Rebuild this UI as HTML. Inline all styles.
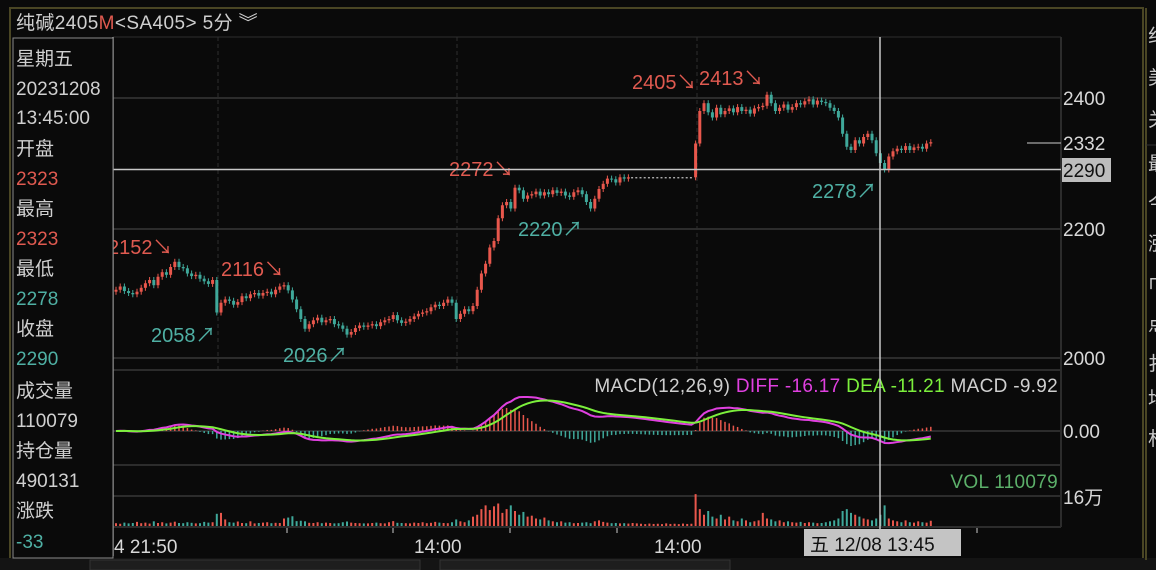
<!DOCTYPE html>
<html><head><meta charset="utf-8">
<style>
body{margin:0;background:#0a0a0a;width:1156px;height:570px;overflow:hidden;font-family:"Liberation Sans","Noto Sans CJK SC",sans-serif;}
svg{position:absolute;left:0;top:0}
text{font-family:"Liberation Sans","Noto Sans CJK SC",sans-serif}
</style></head><body>
<svg id="chart" width="1156" height="570">
<rect x="0" y="0" width="1156" height="570" fill="#0a0a0a"/>
<rect x="10" y="8" width="1133" height="551" fill="none" stroke="#4a4624" stroke-width="2"/>
<rect x="0" y="558" width="1156" height="12" fill="#141414"/>
<rect x="90" y="560" width="330" height="10" fill="#1e1e1e" stroke="#333"/>
<rect x="440" y="560" width="290" height="10" fill="#1e1e1e" stroke="#333"/>
<line x1="1146" y1="8" x2="1146" y2="560" stroke="#4a4624" stroke-width="2"/>
<g>
<text x="16" y="29" font-size="19" fill="#cfcfcf" letter-spacing="0.4">纯碱2405<tspan fill="#e05a50">M</tspan><tspan font-size="19">&lt;SA405&gt; 5分 ︾</tspan></text>
</g>
<line x1="113" y1="37" x2="1061" y2="37" stroke="#2e2e2e"/>
<g id="grid" stroke="#2c2c2c" stroke-width="2">
<line x1="113" y1="98" x2="1061" y2="98"/><line x1="113" y1="229" x2="1061" y2="229"/><line x1="113" y1="358" x2="1061" y2="358"/>
<line x1="113" y1="370" x2="1061" y2="370"/><line x1="113" y1="431" x2="1061" y2="431"/><line x1="113" y1="465" x2="1061" y2="465"/>
<line x1="113" y1="496" x2="1061" y2="496"/><line x1="113" y1="527" x2="1061" y2="527"/>
<line x1="1061" y1="37" x2="1061" y2="527"/>
</g>
<g stroke="#2e2e2e" stroke-dasharray="4,3">
<line x1="218" y1="37" x2="218" y2="370"/><line x1="457" y1="37" x2="457" y2="370"/><line x1="697" y1="37" x2="697" y2="370"/>
</g>
<g id="candles"></g>
<g id="macd"></g>
<g id="vol"></g>
<g font-size="20">
<text x="108" y="254" fill="#e05a50">2152↘</text>
<text x="221" y="276" fill="#e05a50">2116↘</text>
<text x="151" y="342" fill="#4fb0a4">2058↗</text>
<text x="283" y="362" fill="#4fb0a4">2026↗</text>
<text x="449" y="176" fill="#e05a50">2272↘</text>
<text x="518" y="236" fill="#4fb0a4">2220↗</text>
<text x="632" y="89" fill="#e05a50">2405↘</text>
<text x="699" y="85" fill="#e05a50">2413↘</text>
<text x="812" y="198" fill="#4fb0a4">2278↗</text>
</g>
<g font-size="19" fill="#d8d8d8">
<text x="1063" y="105">2400</text>
<line x1="1027" y1="143" x2="1061" y2="143" stroke="#ccc"/>
<text x="1063" y="150">2332</text>
<rect x="1062" y="158" width="49" height="24" fill="#bdbdbd"/>
<text x="1063" y="177" fill="#111">2290</text>
<text x="1063" y="236">2200</text>
<text x="1063" y="365">2000</text>
<text x="1063" y="438">0.00</text>
<text x="1063" y="504">16万</text>
</g>
<g font-size="19">
<text x="1058" y="392" text-anchor="end" letter-spacing="0.3"><tspan fill="#cfcfcf">MACD(12,26,9) </tspan><tspan fill="#e040e0">DIFF -16.17 </tspan><tspan fill="#7cf03c">DEA -11.21 </tspan><tspan fill="#cfcfcf">MACD -9.92</tspan></text>
<text x="1058" y="488" text-anchor="end" fill="#5cb06a" letter-spacing="0.3">VOL 110079</text>
</g>
<g stroke="#c8c8c8" stroke-width="1.5">
<line x1="880" y1="37" x2="880" y2="530"/>
<line x1="113" y1="169.5" x2="1061" y2="169.5"/>
</g>
<g font-size="19" fill="#d8d8d8">
<g stroke="#ccc"><line x1="287" y1="528" x2="287" y2="533"/><line x1="393" y1="528" x2="393" y2="533"/><line x1="510" y1="528" x2="510" y2="533"/><line x1="617" y1="528" x2="617" y2="533"/><line x1="977" y1="528" x2="977" y2="533"/></g>
<text x="114" y="553">4 21:50</text>
<text x="414" y="553">14:00</text>
<text x="654" y="553">14:00</text>
<rect x="804" y="529" width="157" height="27" fill="#c4c4c4"/>
<text x="810" y="551" fill="#111">五 12/08 13:45</text>
</g>
<line x1="113" y1="37" x2="113" y2="556" stroke="#9a9a9a" stroke-width="1.5"/>
<g font-size="19">
<rect x="13" y="38" width="100" height="520" fill="#0a0a0a" stroke="#8a8a8a"/>
<text x="16" y="65" fill="#d0d0d0">星期五</text>
<text x="16" y="95" fill="#d0d0d0">20231208</text>
<text x="16" y="124" fill="#d0d0d0">13:45:00</text>
<text x="16" y="155" fill="#d0d0d0">开盘</text>
<text x="16" y="185" fill="#e05a50">2323</text>
<text x="16" y="215" fill="#d0d0d0">最高</text>
<text x="16" y="245" fill="#e05a50">2323</text>
<text x="16" y="275" fill="#d0d0d0">最低</text>
<text x="16" y="305" fill="#4fb0a4">2278</text>
<text x="16" y="335" fill="#d0d0d0">收盘</text>
<text x="16" y="365" fill="#4fb0a4">2290</text>
<text x="16" y="397" fill="#d0d0d0">成交量</text>
<text x="16" y="427" fill="#d0d0d0">110079</text>
<text x="16" y="457" fill="#d0d0d0">持仓量</text>
<text x="16" y="487" fill="#d0d0d0">490131</text>
<text x="16" y="517" fill="#d0d0d0">涨跌</text>
<text x="16" y="548" fill="#4fb0a4">-33</text>
</g>
<g font-size="19" fill="#c8c8c8">
<text x="1148" y="42">纠</text><text x="1148" y="84">美</text><text x="1148" y="126">关</text>
<line x1="1146" y1="145" x2="1156" y2="145" stroke="#333"/>
<text x="1148" y="170">最</text><text x="1148" y="210">今</text><text x="1148" y="250">涨</text>
<text x="1148" y="290">巾</text><text x="1148" y="330">点</text><text x="1148" y="370">扌</text>
<text x="1148" y="405">均</text><text x="1148" y="445">杉</text>
</g>
</svg>
<script>
const closes=[2105,2110,2103,2100,2098,2102,2108,2115,2120,2112,2125,2132,2128,2140,2148,2140,2138,2130,2126,2128,2122,2118,2114,2120,
2070,2085,2090,2088,2082,2086,
2095,2092,2098,2100,2096,2100,2102,2098,2105,2110,2112,2104,2090,2075,2060,
2045,2052,2058,2062,2055,2058,2060,2052,2050,2045,2036,2040,2046,2050,2048,
2050,2052,2049,2055,2058,2060,2066,2058,2054,2056,2060,2064,2068,2070,2072,2078,2082,2080,2085,2090,
2085,2060,2068,2075,2072,2080,2105,2130,2145,2170,2180,2215,2235,2240,2230,
2262,2258,2245,2250,2252,2256,2250,2255,2252,2258,2254,2256,2250,2248,2255,
2258,2252,2240,2230,2245,2260,2268,2276,2275,2270,2278,2276,2278,2278,2278,
2278,2278,2278,2278,2278,2278,2278,2278,2278,2278,2278,2278,2278,
2330,
2380,2392,2378,2370,2385,2375,2380,2384,2378,2386,2380,2382,2376,2384,2386,
2388,2405,2392,2380,2385,2390,2382,2386,2392,2390,2395,2398,2390,2396,2394,
2392,2385,2380,2370,2345,2325,2320,2335,2330,2340,2345,2335,2315,2300,2290,
2310,2318,2322,2320,2326,2320,2324,2325,2322,2330,2332];
const volumes=[1.5,1.2,1.8,1.4,1.6,2.2,1.5,1.8,1.3,2.5,1.6,2.0,1.4,1.8,2.3,1.6,1.5,2.0,1.7,1.4,1.5,2.2,1.8,2.0,
6.5,7.0,3.5,2.0,1.8,2.4,
1.6,1.5,2.5,1.4,1.6,1.8,2.0,1.5,1.7,1.6,4.0,4.5,5.2,2.6,2.8,
2.5,1.7,1.6,2.0,1.5,1.8,1.6,1.4,1.5,2.0,2.4,1.8,1.6,1.5,1.4,
1.4,1.6,1.8,1.5,1.4,2.0,2.6,1.7,1.6,1.5,1.4,1.8,1.6,2.0,1.5,1.7,2.2,1.8,1.6,1.5,
2.0,3.5,2.5,2.0,3.0,5.0,6.0,9.0,11,8.5,10.5,12.0,7.0,9.0,11.0,
8.0,6.0,7.5,5.0,5.5,4.0,3.5,4.5,3.0,2.5,2.0,2.5,1.8,2.0,1.5,
1.6,1.8,2.0,1.5,2.5,3.0,2.2,1.8,1.5,1.6,1.4,1.5,1.3,1.6,1.4,
1.2,1.0,1.3,1.1,1.2,1.0,1.4,1.1,1.2,1.0,1.3,1.1,1.2,
17,
9,6,8,5,4,6,3.5,5,3,2.5,4,3,2,2.5,3,
7,4,3.5,2.5,3,2,2.5,2,1.8,2.2,1.6,2,1.8,1.5,1.6,
2,2.5,3,4,8,9,7,6,5,4,3.5,3,4,6,11,
4,3,2.5,2,3,2,1.8,2.5,2,1.8,2.8];
const priceTicks=[2400,2200,2000];
const NS='http://www.w3.org/2000/svg';
const x0=116, step=4.2;
const xOf=i=>x0+i*step;
const yP=p=>98+(2400-p)*0.65;
const yV=v=>526-v*(30/16);
const UP='#e8574c', DN='#3fa89a', FLAT='#f0f0f0';
function mk(tag,attrs,parent){const e=document.createElementNS(NS,tag);for(const k in attrs)e.setAttribute(k,attrs[k]);parent.appendChild(e);return e;}
const cg=document.getElementById('candles'), vg=document.getElementById('vol'), mg=document.getElementById('macd');
closes.forEach((c,i)=>{
  const o=i===0?c-3:closes[i-1];
  const col=c>o?UP:(c<o?DN:FLAT);
  const x=xOf(i);
  const top=yP(Math.max(o,c)), bot=yP(Math.min(o,c));
  if(c!==o){
    const w=mk('line',{x1:x,x2:x,y1:top-3,y2:bot+3,stroke:col,'stroke-width':1},cg);
    
    
  }
  const r=mk('rect',{x:x-1.5,y:top,width:c===o?2:3,height:Math.max(1,bot-top),fill:col},cg);
  
  
  const v=volumes[i];
  const vb=mk('rect',{x:x-1,y:yV(v),width:2,height:526-yV(v),fill:col===FLAT?UP:col},vg);
  
  
});
let e12=closes[0],e26=closes[0],dea=0;const dif=[],deaA=[],hist=[];
closes.forEach(c=>{e12=e12+(c-e12)*2/13;e26=e26+(c-e26)*2/27;const d=e12-e26;dea=dea+(d-dea)*0.2;dif.push(d);deaA.push(dea);hist.push(2*(d-dea));});
const mx=Math.max(...dif.map(Math.abs),...hist.map(Math.abs));
const yM=v=>431-v*(34/mx);
hist.forEach((h,i)=>{
  const x=xOf(i);
  const l=mk('line',{x1:x,x2:x,y1:431,y2:yM(h),stroke:h>=0?UP:DN,'stroke-width':1.5},mg);
  
  
});
const p1=mk('polyline',{points:dif.map((d,i)=>xOf(i)+','+yM(d)).join(' '),fill:'none',stroke:'#e040e0','stroke-width':2},mg);


const p2=mk('polyline',{points:deaA.map((d,i)=>xOf(i)+','+yM(d)).join(' '),fill:'none',stroke:'#7cf03c','stroke-width':2},mg);


</script>
</body></html>
